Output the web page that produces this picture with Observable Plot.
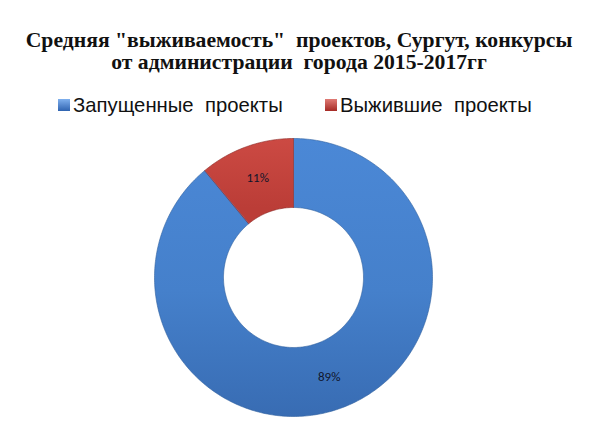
<!DOCTYPE html>
<html>
<head>
<meta charset="utf-8">
<script src="https://cdn.jsdelivr.net/npm/d3@7"></script>
<script src="https://cdn.jsdelivr.net/npm/@observablehq/plot@0.6"></script>
<style>
  html, body { margin: 0; padding: 0; background: #fff; }
  #wrap { width: 602px; height: 433px; position: relative; overflow: hidden; }
  #title { position: absolute; left: 0; width: 602px; text-align: center; white-space: pre;
    font-family: "Liberation Serif", "DejaVu Serif", serif; font-weight: bold; font-size: 22px;
    line-height: 22px; color: #111; }
  #legend { position: absolute; top: 94px; left: 0; width: 602px; height: 26px;
    font-family: "Liberation Sans", Arial, sans-serif; font-size: 20.3px; color: #111; }
  .li { position: absolute; top: 0; white-space: pre; }
  .sw { display: inline-block; width: 12px; height: 12px; margin-right: 3px; vertical-align: 1px; }
  #chart { position: absolute; left: 0; top: 125px; }
</style>
</head>
<body>
<div id="wrap">
  <div id="title"></div>
  <div id="legend"></div>
  <div id="chart"></div>
</div>
<script>
// Data
const titleLines = ["Средняя \"выживаемость\"  проектов, Сургут, конкурсы", "от администрации  города 2015-2017гг"];
const categories = ["Запущенные  проекты", "Выжившие  проекты"];
const shares = [89, 11];
const labels = ["89%", "11%"];
const colors = ["#4580cb", "#c5433d"];

// Title: fit the first line to the reference's width, two lines in one block
const title = document.getElementById("title");
const probe = document.createElement("span");
probe.style.cssText = "position:absolute;visibility:hidden;white-space:pre;font:bold 22px 'Liberation Serif', serif";
probe.textContent = titleLines[0];
document.body.appendChild(probe);
const fs = 22 * 547 / probe.getBoundingClientRect().width;
probe.remove();
title.style.fontSize = fs + "px";
title.style.lineHeight = "22px";
title.style.left = "-2px";
title.textContent = titleLines.join("\n");
title.style.top = (48 - 11 - fs * 0.36) + "px";

// Legend
const legend = document.getElementById("legend");
const legendX = [58, 325];
categories.forEach((c, i) => {
  const el = document.createElement("div");
  el.className = "li";
  el.style.left = legendX[i] + "px";
  const grad = i === 0 ? "linear-gradient(#7fb0ee, #2f63b0)" : "linear-gradient(#e07b75, #a52a25)";
  el.innerHTML = `<span class="sw" style="background:${grad}"></span>${c}`;
  legend.appendChild(el);
});

// Donut geometry (layout constants)
const W = 602, H = 308;
const cx = 293, cy = 152;
const R = 139, r = 70;

const table = categories.map((c, i) => ({name: c, value: shares[i], label: labels[i], color: colors[i]}));
const pie = d3.pie().value(d => d.value).sort(null).startAngle(0).endAngle(2 * Math.PI);
const arcs = pie(table);

const pts = [];
arcs.forEach(a => {
  const n = Math.max(8, Math.ceil((a.endAngle - a.startAngle) * 60));
  for (let k = 0; k <= n; k++) {
    const t = a.startAngle + (a.endAngle - a.startAngle) * k / n;
    pts.push({name: a.data.name, x: R * Math.sin(t), y: R * Math.cos(t)});
  }
  for (let k = n; k >= 0; k--) {
    const t = a.startAngle + (a.endAngle - a.startAngle) * k / n;
    pts.push({name: a.data.name, x: r * Math.sin(t), y: r * Math.cos(t)});
  }
});
const cent = arcs.map(a => {
  const m = (a.startAngle + a.endAngle) / 2, rm = (R + r) / 2 + 1;
  return {label: a.data.label, x: rm * Math.sin(m), y: rm * Math.cos(m)};
});

const gradIds = ["gBlue", "gRed"];
const chart = Plot.plot({
  width: W, height: H,
  margin: 0,
  x: {domain: [-cx, W - cx], axis: null},
  y: {domain: [-(H - cy), cy], axis: null},
  marks: [
    ...categories.map((c, i) => Plot.line(pts.filter(p => p.name === c), {
      x: "x", y: "y", curve: "linear-closed",
      fill: `url(#${gradIds[i]})`,
      stroke: i === 0 ? "#2f5f9e" : "#8c2a26", strokeWidth: 0.6
    })),
    Plot.text(cent, {x: "x", y: "y", text: "label", fontSize: 13, fill: "#10152a",
      fontFamily: "Carlito, Calibri, 'Liberation Sans', sans-serif"})
  ]
});
const defs = `<defs>
<linearGradient id="gBlue" gradientUnits="userSpaceOnUse" x1="0" y1="${cy - R}" x2="0" y2="${cy + R}">
  <stop offset="0" stop-color="#4b88d6"/><stop offset="0.55" stop-color="#4580cb"/><stop offset="1" stop-color="#386cb3"/>
</linearGradient>
<linearGradient id="gRed" gradientUnits="userSpaceOnUse" x1="0" y1="${cy - R}" x2="0" y2="${cy - r}">
  <stop offset="0" stop-color="#cc4a43"/><stop offset="1" stop-color="#bb3d37"/>
</linearGradient></defs>`;
chart.insertAdjacentHTML("afterbegin", defs);
document.getElementById("chart").appendChild(chart);
</script>
</body>
</html>
